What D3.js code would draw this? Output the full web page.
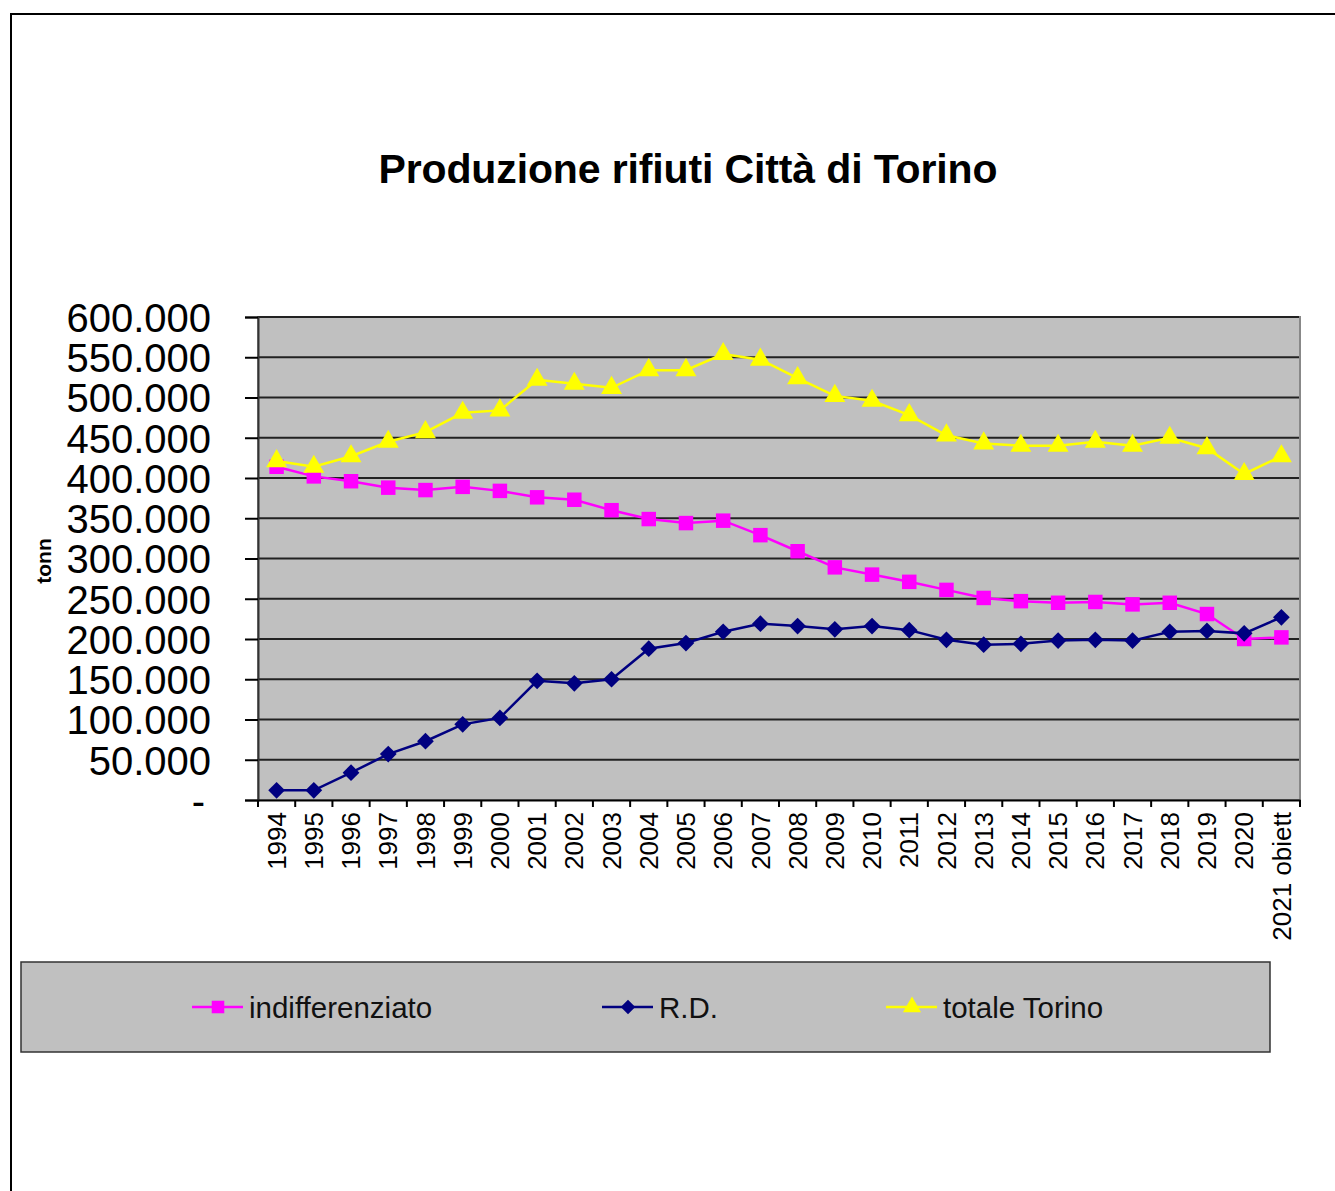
<!DOCTYPE html>
<html>
<head>
<meta charset="utf-8">
<script src="https://cdn.jsdelivr.net/npm/d3@7"></script>
<style>
  body { margin: 0; background: #fff; }
  svg { display: block; font-family: "Liberation Sans", Arial, sans-serif; }
</style>
</head>
<body>
<svg id="chart"></svg>
<script>
var width = 1335, height = 1191

var years = ["1994", "1995", "1996", "1997", "1998", "1999", "2000", "2001", "2002", "2003",
    "2004", "2005", "2006", "2007", "2008", "2009", "2010", "2011", "2012", "2013",
    "2014", "2015", "2016", "2017", "2018", "2019", "2020", "2021 obiett"]

// tonn
var indifferenziato = [414000, 402000, 396000, 388000, 385000, 389000, 384000, 376000, 373000, 360000,
    349000, 344000, 347000, 329000, 309000, 289000, 280000, 271000, 261000, 251000,
    247000, 245000, 246000, 243000, 245000, 231000, 200000, 202000]
var rd = [12000, 12000, 34000, 57000, 73000, 94000, 102000, 148000, 145000, 150000,
    188000, 195000, 209000, 219000, 216000, 212000, 216000, 211000, 199000, 193000,
    194000, 198000, 199000, 198000, 209000, 210000, 207000, 227000]
var totale = [421000, 414000, 427000, 445000, 457000, 481000, 484000, 522000, 517000, 512000,
    534000, 534000, 554000, 547000, 524000, 502000, 496000, 478000, 453000, 443000,
    440000, 440000, 445000, 440000, 450000, 437000, 405000, 427000]

var yTicks = d3.range(0, 600001, 50000)

// diamond = square turned by 45 degrees
var diamond = {
    draw: function(ctx, size) {
        var r = Math.sqrt(size) / 2 * Math.SQRT2
        ctx.moveTo(0, -r)
        ctx.lineTo(r, 0)
        ctx.lineTo(0, r)
        ctx.lineTo(-r, 0)
        ctx.closePath()
    }
}

var series = [
    {name: "indifferenziato", values: indifferenziato, color: "#ff00ff", symbol: d3.symbolSquare, size: 210},
    {name: "R.D.", values: rd, color: "#000080", symbol: diamond, size: 140},
    {name: "totale Torino", values: totale, color: "#ffff00", symbol: d3.symbolTriangle, size: 190}
]

var svg = d3.select("#chart")
    .attr("width", width)
    .attr("height", height)

// outer chart frame (only top and left visible)
svg.append("path")
    .attr("d", "M11,1191V14H1335")
    .attr("fill", "none")
    .attr("stroke", "#000")
    .attr("stroke-width", 2)

svg.append("text")
    .attr("x", 688)
    .attr("y", 183)
    .attr("text-anchor", "middle")
    .attr("font-weight", "bold")
    .attr("font-size", 41)
    .attr("textLength", 619)
    .attr("lengthAdjust", "spacing")
    .text("Produzione rifiuti Città di Torino")

var plot = {left: 258, top: 317, right: 1300, bottom: 800}

var x = d3.scaleBand()
    .domain(years)
    .range([plot.left, plot.right])
    .padding(0)

var y = d3.scaleLinear()
    .domain([0, 600000])
    .range([plot.bottom, plot.top])

var cx = d => x(d) + x.bandwidth() / 2

svg.append("rect")
    .attr("x", plot.left)
    .attr("y", plot.top)
    .attr("width", plot.right - plot.left)
    .attr("height", plot.bottom - plot.top)
    .attr("fill", "#c0c0c0")
    .attr("stroke", "#888")
    .attr("stroke-width", 2)

// gridlines
svg.append("g")
    .selectAll("line")
    .data(yTicks.filter(d => d > 0))
    .enter()
    .append("line")
    .attr("x1", plot.left)
    .attr("x2", plot.right - 1)
    .attr("y1", d => y(d))
    .attr("y2", d => y(d))
    .attr("stroke", "#222")
    .attr("stroke-width", 2)

// y axis
var yAxis = svg.append("g")
    .attr("transform", "translate(" + plot.left + ",0)")
    .call(d3.axisLeft(y)
        .tickValues(yTicks)
        .tickSize(13)
        .tickPadding(34)
        .tickFormat(d => d == 0 ? "-" : d3.format(",")(d).replace(/,/g, ".")))
yAxis.select(".domain")
    .attr("stroke", "#333")
    .attr("stroke-width", 2)
yAxis.selectAll(".tick line")
    .attr("stroke", "#000")
    .attr("stroke-width", 2)
yAxis.selectAll(".tick text")
    .attr("font-size", 40)
    .attr("fill", "#000")
    .attr("font-family", "Liberation Sans, Arial, sans-serif")
    .attr("dy", "0.36em")
    .attr("dx", d => d == 0 ? -6 : 0)

svg.append("text")
    .attr("transform", "translate(51,561) rotate(-90)")
    .attr("text-anchor", "middle")
    .attr("font-weight", "bold")
    .attr("font-size", 21)
    .text("tonn")

// x axis
var xAxis = svg.append("g")
    .attr("transform", "translate(0," + plot.bottom + ")")
    .call(d3.axisBottom(x).tickSize(0).tickPadding(0))
xAxis.select(".domain")
    .attr("stroke", "#000")
    .attr("stroke-width", 2)
xAxis.selectAll(".tick text")
    .attr("font-size", 26)
    .attr("fill", "#000")
    .attr("font-family", "Liberation Sans, Arial, sans-serif")
    .attr("text-anchor", "end")
    .attr("transform", "rotate(-90)")
    .attr("x", -12)
    .attr("y", 0)
    .attr("dy", "0.35em")

svg.append("g")
    .selectAll("line")
    .data(years.map(d => x(d)).concat([plot.right]))
    .enter()
    .append("line")
    .attr("x1", d => d)
    .attr("x2", d => d)
    .attr("y1", plot.bottom)
    .attr("y2", plot.bottom + 7)
    .attr("stroke", "#000")
    .attr("stroke-width", 2)

// series
var line = d3.line()
    .x((d, i) => cx(years[i]))
    .y(d => y(d))

series.forEach(s => {
    var g = svg.append("g")
    g.append("path")
        .datum(s.values)
        .attr("d", line)
        .attr("fill", "none")
        .attr("stroke", s.color)
        .attr("stroke-width", 2.5)
    g.selectAll(".m")
        .data(s.values)
        .enter()
        .append("path")
        .attr("transform", (d, i) => "translate(" + cx(years[i]) + "," + y(d) + ")")
        .attr("d", d3.symbol().type(s.symbol).size(s.size))
        .attr("fill", s.color)
})

// legend
svg.append("rect")
    .attr("x", 21)
    .attr("y", 962)
    .attr("width", 1249)
    .attr("height", 90)
    .attr("fill", "#c0c0c0")
    .attr("stroke", "#333")
    .attr("stroke-width", 1.5)

var legendX = [192, 602, 886]
series.forEach((s, i) => {
    var lg = svg.append("g").attr("transform", "translate(" + legendX[i] + ",1007)")
    lg.append("line")
        .attr("x1", 0)
        .attr("x2", 51)
        .attr("stroke", s.color)
        .attr("stroke-width", 2.5)
    lg.append("path")
        .attr("transform", "translate(26,0)")
        .attr("d", d3.symbol().type(s.symbol).size(s.size * 0.75))
        .attr("fill", s.color)
    lg.append("text")
        .attr("x", 57)
        .attr("dy", "0.36em")
        .attr("font-size", 29.5)
        .attr("fill", "#111")
        .text(s.name)
})
</script>
</body>
</html>
